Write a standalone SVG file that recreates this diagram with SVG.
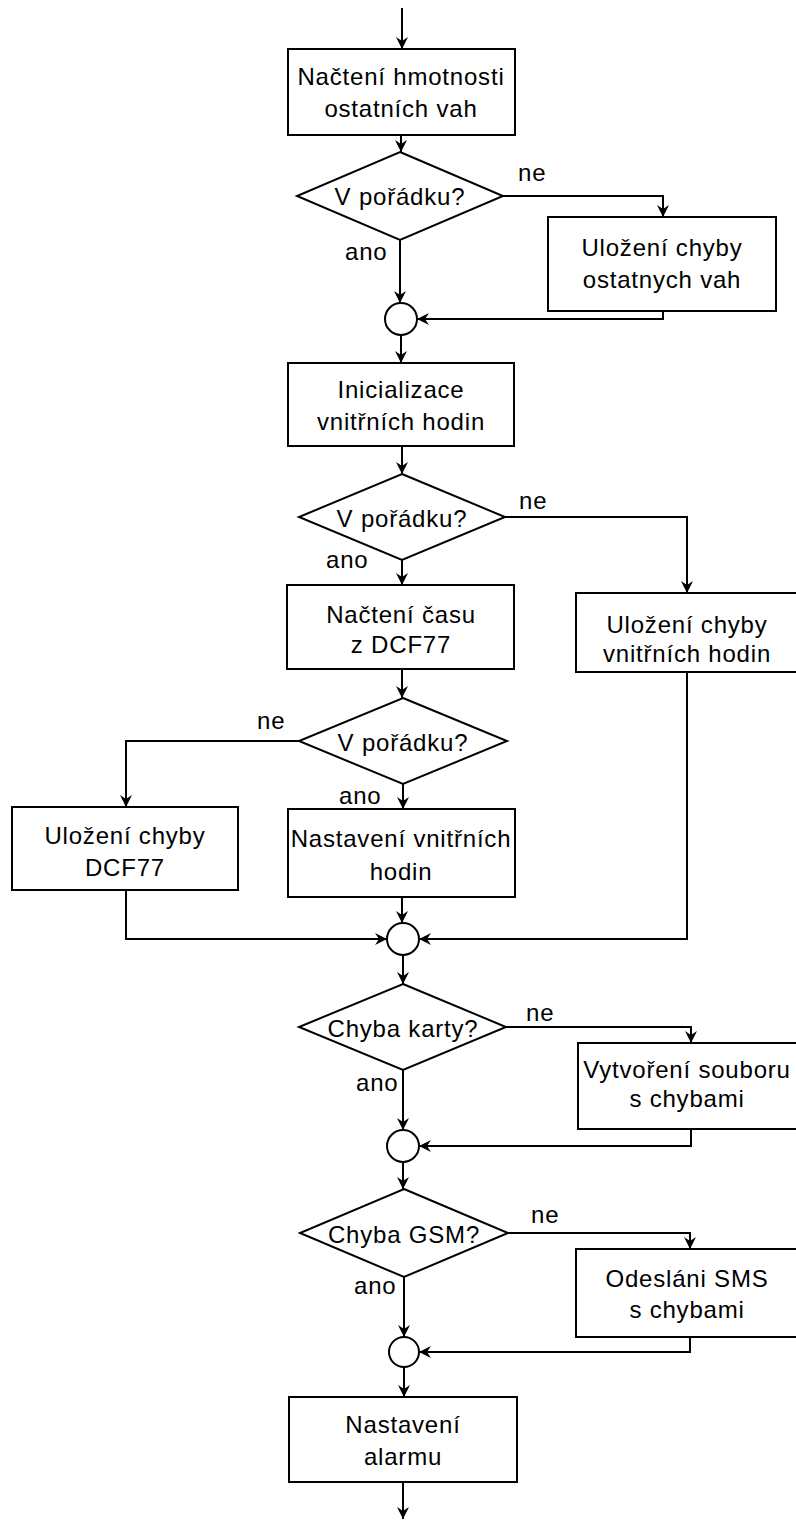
<svg xmlns="http://www.w3.org/2000/svg" width="796" height="1521" viewBox="0 0 796 1521">
  <style>
    .box { fill: #fff; stroke: #000; stroke-width: 2; }
    .dec { fill: #fff; stroke: #000; stroke-width: 2; stroke-linejoin: miter; }
    .join { fill: #fff; stroke: #000; stroke-width: 2; }
    .flow { fill: none; stroke: #000; stroke-width: 2; }
    .arrow { marker-end: url(#head); }
    text { font-family: "Liberation Sans", Arial, sans-serif; font-size: 24px; letter-spacing: 0.8px; fill: #000; }
    .c { text-anchor: middle; }
    .lbl { text-anchor: start; }
  </style>
  <defs>
    <marker id="head" viewBox="0 0 12 12" refX="12" refY="6" markerWidth="12" markerHeight="12" markerUnits="userSpaceOnUse" orient="auto">
      <path d="M0,0 L12,6 L0,12 L4,6 z" fill="#000"/>
    </marker>
  </defs>
  <rect width="796" height="1521" fill="#fff"/>

  <!-- connectors -->
  <g id="connectors">
    <path class="flow arrow" d="M402,8 V49"/>
    <path class="flow arrow" d="M401,135 V152"/>
    <path class="flow arrow" d="M503,196 H663 V217"/>
    <path class="flow arrow" d="M400,240 V303"/>
    <path class="flow arrow" d="M663,311 V319 H417"/>
    <path class="flow arrow" d="M401,335 V363"/>
    <path class="flow arrow" d="M402,446 V474"/>
    <path class="flow arrow" d="M505,517 H687 V593"/>
    <path class="flow arrow" d="M402,560 V585"/>
    <path class="flow arrow" d="M402,669 V698"/>
    <path class="flow arrow" d="M299,741 H126 V807"/>
    <path class="flow arrow" d="M403,784 V809"/>
    <path class="flow arrow" d="M402,897 V923"/>
    <path class="flow arrow" d="M126,890 V939 H387"/>
    <path class="flow arrow" d="M687,672 V939 H419"/>
    <path class="flow arrow" d="M403,955 V984"/>
    <path class="flow arrow" d="M506,1027 H691 V1043"/>
    <path class="flow arrow" d="M403,1070 V1130"/>
    <path class="flow arrow" d="M691,1129 V1146 H419"/>
    <path class="flow arrow" d="M403,1162 V1189"/>
    <path class="flow arrow" d="M508,1233 H690 V1249"/>
    <path class="flow arrow" d="M404,1277 V1337"/>
    <path class="flow arrow" d="M690,1337 V1352 H419"/>
    <path class="flow arrow" d="M404,1367 V1397"/>
    <path class="flow arrow" d="M403,1482 V1519"/>
  </g>

  <!-- labels on branches -->
  <g id="branch-labels">
    <text class="lbl" x="518" y="181">ne</text>
    <text class="lbl" x="345" y="260">ano</text>
    <text class="lbl" x="519" y="509">ne</text>
    <text class="lbl" x="326" y="568">ano</text>
    <text class="lbl" x="257" y="729">ne</text>
    <text class="lbl" x="339" y="804">ano</text>
    <text class="lbl" x="526" y="1021">ne</text>
    <text class="lbl" x="356" y="1091">ano</text>
    <text class="lbl" x="531" y="1223">ne</text>
    <text class="lbl" x="354" y="1294">ano</text>
  </g>

  <g id="load-weights">
    <rect class="box" x="288" y="49" width="227" height="86"/>
    <text class="c" x="401" y="85">Načtení hmotnosti</text>
    <text class="c" x="401" y="117">ostatních vah</text>
  </g>

  <g id="check-weights">
    <polygon class="dec" points="400,152 503,196 400,240 297,196"/>
    <text class="c" x="400" y="205">V pořádku?</text>
  </g>

  <g id="store-weights-error">
    <rect class="box" x="548" y="217" width="228" height="94"/>
    <text class="c" x="662" y="256">Uložení chyby</text>
    <text class="c" x="662" y="288">ostatnych vah</text>
  </g>

  <g id="join-1">
    <circle class="join" cx="401" cy="319" r="16"/>
  </g>

  <g id="init-clock">
    <rect class="box" x="288" y="363" width="226" height="83"/>
    <text class="c" x="401" y="398">Inicializace</text>
    <text class="c" x="401" y="430">vnitřních hodin</text>
  </g>

  <g id="check-clock">
    <polygon class="dec" points="402,474 505,517 402,560 299,517"/>
    <text class="c" x="402" y="527">V pořádku?</text>
  </g>

  <g id="read-dcf">
    <rect class="box" x="287" y="585" width="227" height="84"/>
    <text class="c" x="401" y="623">Načtení času</text>
    <text class="c" x="401" y="653">z DCF77</text>
  </g>

  <g id="store-clock-error">
    <rect class="box" x="576" y="593" width="222" height="79"/>
    <text class="c" x="687" y="633">Uložení chyby</text>
    <text class="c" x="687" y="662">vnitřních hodin</text>
  </g>

  <g id="check-dcf">
    <polygon class="dec" points="403,698 507,741 403,784 299,741"/>
    <text class="c" x="403" y="751">V pořádku?</text>
  </g>

  <g id="store-dcf-error">
    <rect class="box" x="12" y="807" width="226" height="83"/>
    <text class="c" x="125" y="844">Uložení chyby</text>
    <text class="c" x="125" y="876">DCF77</text>
  </g>

  <g id="set-clock">
    <rect class="box" x="288" y="809" width="227" height="88"/>
    <text class="c" x="401" y="847">Nastavení vnitřních</text>
    <text class="c" x="401" y="880">hodin</text>
  </g>

  <g id="join-2">
    <circle class="join" cx="403" cy="939" r="16"/>
  </g>

  <g id="check-card">
    <polygon class="dec" points="403,984 506,1027 403,1070 299,1027"/>
    <text class="c" x="403" y="1037">Chyba karty?</text>
  </g>

  <g id="create-error-file">
    <rect class="box" x="578" y="1043" width="220" height="86"/>
    <text class="c" x="687" y="1078">Vytvoření souboru</text>
    <text class="c" x="687" y="1107">s chybami</text>
  </g>

  <g id="join-3">
    <circle class="join" cx="403" cy="1146" r="16"/>
  </g>

  <g id="check-gsm">
    <polygon class="dec" points="404,1189 508,1233 404,1277 300,1233"/>
    <text class="c" x="404" y="1243">Chyba GSM?</text>
  </g>

  <g id="send-sms">
    <rect class="box" x="576" y="1249" width="222" height="88"/>
    <text class="c" x="687" y="1287">Odesláni SMS</text>
    <text class="c" x="687" y="1318">s chybami</text>
  </g>

  <g id="join-4">
    <circle class="join" cx="404" cy="1352" r="15"/>
  </g>

  <g id="set-alarm">
    <rect class="box" x="289" y="1397" width="228" height="85"/>
    <text class="c" x="403" y="1433">Nastavení</text>
    <text class="c" x="403" y="1465">alarmu</text>
  </g>
</svg>
